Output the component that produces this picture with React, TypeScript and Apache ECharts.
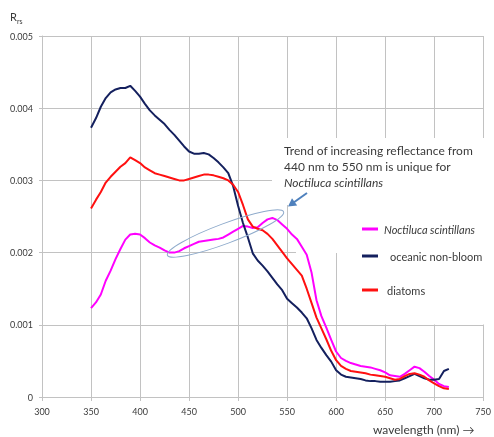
import React, { useEffect, useRef } from "react";
import * as echarts from "echarts";

const wavelengths = [
  350, 355, 360, 365, 370, 375, 380, 385, 390, 395, 400, 405, 410, 415, 420, 425, 430, 435, 440, 445,
  450, 455, 460, 465, 470, 475, 480, 485, 490, 495, 500, 505, 510, 515, 520, 525, 530, 535, 540, 545,
  550, 555, 560, 565, 570, 575, 580, 585, 590, 595, 600, 605, 610, 615, 620, 625, 630, 635, 640, 645,
  650, 655, 660, 665, 670, 675, 680, 685, 690, 695, 700, 705, 710, 715,
];

const noctiluca = [
  0.00123, 0.00131, 0.00142, 0.00161, 0.00175, 0.00191, 0.00205, 0.00218, 0.00225, 0.00226,
  0.00225, 0.0022, 0.00214, 0.0021, 0.00207, 0.00203, 0.002, 0.002, 0.00202, 0.00206,
  0.00209, 0.00212, 0.00215, 0.00216, 0.00217, 0.00218, 0.00219, 0.00221, 0.00225, 0.00229,
  0.00233, 0.00237, 0.00236, 0.00234, 0.00235, 0.00241, 0.00246, 0.00248, 0.00245, 0.00239,
  0.00233, 0.00225, 0.00219, 0.00208, 0.00197, 0.00172, 0.00134, 0.00112, 0.00096, 0.00079,
  0.00063, 0.00054, 0.0005, 0.00047, 0.00045, 0.00043, 0.00042, 0.00041, 0.00039, 0.00037,
  0.00034, 0.0003, 0.00029, 0.00028, 0.00032, 0.00037, 0.00042, 0.0004, 0.00035, 0.00029,
  0.00024, 0.00018, 0.00015, 0.00014,
];

const oceanic = [
  0.00373, 0.00386, 0.00402, 0.00414, 0.00422, 0.00426, 0.00428, 0.00428, 0.00431, 0.00424,
  0.00416, 0.00406, 0.00397, 0.0039, 0.00384, 0.00378, 0.0037, 0.00363, 0.00355, 0.00347,
  0.0034, 0.00337, 0.00337, 0.00338, 0.00336, 0.00331, 0.00325, 0.00318, 0.0031, 0.00292,
  0.00265, 0.00241, 0.00221, 0.00199, 0.00189, 0.00182, 0.00174, 0.00165, 0.00156, 0.00148,
  0.00136, 0.0013, 0.00124, 0.00117, 0.00109, 0.00095, 0.00079, 0.00068, 0.00058, 0.00049,
  0.00037, 0.00031, 0.00028, 0.00027, 0.00026, 0.00025, 0.00023, 0.00022, 0.00022, 0.00021,
  0.00021, 0.00021, 0.00022, 0.00023, 0.00026, 0.00029, 0.00032, 0.00029, 0.00026, 0.00024,
  0.00024, 0.00025, 0.00036, 0.00039,
];

const diatoms = [
  0.00261, 0.00273, 0.00284, 0.00297, 0.00305, 0.00312, 0.00319, 0.00324, 0.00332, 0.00328,
  0.00324, 0.00318, 0.00314, 0.0031, 0.00308, 0.00306, 0.00304, 0.00302, 0.003, 0.003,
  0.00302, 0.00304, 0.00306, 0.00308, 0.00308, 0.00307, 0.00305, 0.00303, 0.003, 0.00294,
  0.00284, 0.00266, 0.00246, 0.00236, 0.00233, 0.00231, 0.00226, 0.00219, 0.0021, 0.00201,
  0.00192, 0.00184, 0.00176, 0.00168, 0.0015, 0.0013, 0.0011, 0.00095, 0.0008, 0.00064,
  0.00051, 0.00043, 0.00039, 0.00036, 0.00035, 0.00034, 0.00033, 0.00031, 0.0003, 0.00029,
  0.00028, 0.00026, 0.00024, 0.00025, 0.00029, 0.00032, 0.00033, 0.00031, 0.00028, 0.00023,
  0.00019, 0.00015, 0.00012, 0.00011,
];

const seriesNames = ["Noctiluca scintillans", "oceanic non-bloom", "diatoms"];
const seriesColors = ["#ff00ff", "#14205e", "#ff1010"];
const annotationLines = [
  "Trend of increasing reflectance from",
  "440 nm to 550 nm is unique for",
  "Noctiluca scintillans",
];

export default function App() {
  const ref = useRef<HTMLDivElement>(null);

  useEffect(() => {
    const chart = echarts.init(ref.current as HTMLDivElement, null, { renderer: "svg" });
    const font = "Lato, 'Liberation Sans', sans-serif";
    const textColor = "#3a3a3a";
    const gridColor = "#c2c2c2";
    const pair = (vals: number[]) => wavelengths.map((w, i) => [w, vals[i]]);
    const valueSets = [noctiluca, oceanic, diatoms];

    const legendTops = [222, 249, 283];
    const legendPads = [[0, 0, 0, 1], [0, 0, 0, 7], [0, 0, 0, 4]];

    chart.setOption({
      animation: false,
      grid: { left: 42, right: 4, top: 36, bottom: 40 },
      xAxis: {
        type: "value",
        min: 300,
        max: 750,
        interval: 50,
        axisLine: { show: true, lineStyle: { color: gridColor } },
        axisTick: { show: true, length: 4, lineStyle: { color: gridColor } },
        axisLabel: { color: textColor, fontSize: 9, fontFamily: font, margin: 10 },
        splitLine: { show: true, lineStyle: { color: gridColor, width: 1 } },
      },
      yAxis: {
        type: "value",
        min: 0,
        max: 0.005,
        interval: 0.001,
        axisLine: { show: true, lineStyle: { color: gridColor } },
        axisTick: { show: true, length: 3, lineStyle: { color: gridColor } },
        axisLabel: { color: textColor, fontSize: 9, fontFamily: font, margin: 9 },
        splitLine: { show: true, lineStyle: { color: gridColor, width: 1 } },
      },
      legend: seriesNames.map((name, i) => ({
        data: [name],
        left: 362,
        top: legendTops[i],
        padding: 0,
        icon: "rect",
        itemWidth: 16,
        itemHeight: 3,
        itemGap: 0,
        selectedMode: false,
        textStyle: {
          color: textColor,
          fontSize: 11,
          fontFamily: font,
          fontStyle: i === 0 ? "italic" : "normal",
          lineHeight: 14,
          padding: legendPads[i],
        },
      })),
      series: seriesNames.map((name, i) => ({
        name,
        type: "line",
        data: pair(valueSets[i]),
        showSymbol: false,
        symbol: "none",
        lineStyle: { color: seriesColors[i], width: 2 },
        itemStyle: { color: seriesColors[i] },
        z: 3,
      })),
      graphic: [
        { type: "rect", z: 1, shape: { x: 272, y: 138, width: 217, height: 67 }, style: { fill: "#ffffff" } },
        { type: "rect", z: 1, shape: { x: 296, y: 205, width: 193, height: 48 }, style: { fill: "#ffffff" } },
        { type: "rect", z: 1, shape: { x: 342, y: 253, width: 147, height: 71.5 }, style: { fill: "#ffffff" } },
        { type: "text", z: 5, x: 10, y: 11, style: { text: "R", fontSize: 11, fontFamily: font, fill: textColor } },
        { type: "text", z: 5, x: 17, y: 17, style: { text: "rs", fontSize: 7, fontFamily: font, fill: textColor } },
        ...annotationLines.map((t, i) => ({
          type: "text",
          z: 5,
          x: 284,
          y: [150, 166, 182][i],
          style: {
            text: t,
            fontSize: 12,
            fontFamily: font,
            fontStyle: i === 2 ? "italic" : "normal",
            fill: textColor,
            verticalAlign: "middle",
          },
        })),
        {
          type: "line",
          z: 5,
          shape: { x1: 307, y1: 193, x2: 294, y2: 202.2 },
          style: { stroke: "#4f81bd", lineWidth: 2 },
        },
        {
          type: "polygon",
          z: 5,
          shape: { points: [[288, 206.5], [297.2, 205.6], [292.0, 198.2]] },
          style: { fill: "#4f81bd" },
        },
        {
          type: "ellipse",
          z: 5,
          x: 225.5,
          y: 233.5,
          rotation: 0.358,
          shape: { cx: 0, cy: 0, rx: 62, ry: 10 },
          style: { fill: "none", stroke: "#8eaacb", lineWidth: 1 },
        },
        {
          type: "text",
          z: 5,
          x: 373,
          y: 429,
          style: {
            text: "wavelength (nm) \u2192",
            fontSize: 12,
            fontFamily: font,
            fill: textColor,
            verticalAlign: "middle",
          },
        },
      ],
    });

    return () => chart.dispose();
  }, []);

  return (
    <div
      ref={ref}
      style={{ position: "fixed", left: 0, top: 0, width: 494, height: 437 }}
    />
  );
}
